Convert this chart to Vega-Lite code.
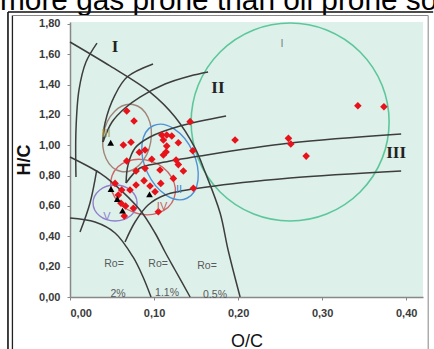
{
  "$schema": "https://vega.github.io/schema/vega-lite/v6.json",
  "width": 353,
  "height": 275,
  "autosize": {"type": "none"},
  "padding": {"left": 70, "top": 22, "right": 11, "bottom": 52},
  "background": "white",
  "config": {
    "view": {"fill": "#ddf0ea", "stroke": null},
    "font": "Liberation Sans",
    "axis": {
      "titleFontSize": 18, "titleColor": "#111", "labelFontSize": 11, "labelFontWeight": "bold",
      "labelColor": "#3a3a3a", "labelPadding": 7, "tickSize": 3, "tickColor": "#888",
      "domainColor": "#888", "domainWidth": 1.5, "grid": false, "labelOverlap": false
    },
    "axisX": {"titleFontWeight": "normal", "titlePadding": 14},
    "axisY": {"titleFontWeight": "bold", "titlePadding": 5}
  },
  "datasets": {
    "curves": [
      {"id": "L1", "o": 0, "x": 0.0, "y": 1.681},
      {"id": "L1", "o": 1, "x": 0.0476, "y": 1.523},
      {"id": "L1", "o": 2, "x": 0.0952, "y": 1.351},
      {"id": "L1", "o": 3, "x": 0.125, "y": 1.187},
      {"id": "L1", "o": 4, "x": 0.1488, "y": 0.982},
      {"id": "L1", "o": 5, "x": 0.1607, "y": 0.824},
      {"id": "L1", "o": 6, "x": 0.1786, "y": 0.554},
      {"id": "L1", "o": 7, "x": 0.1881, "y": 0.31},
      {"id": "L1", "o": 8, "x": 0.2024, "y": 0.0},
      {"id": "L2", "o": 0, "x": 0.0, "y": 0.923},
      {"id": "L2", "o": 1, "x": 0.0357, "y": 0.817},
      {"id": "L2", "o": 2, "x": 0.0512, "y": 0.751},
      {"id": "L2", "o": 3, "x": 0.0833, "y": 0.5735},
      {"id": "L2", "o": 4, "x": 0.1012, "y": 0.4219},
      {"id": "L2", "o": 5, "x": 0.1131, "y": 0.2966},
      {"id": "L2", "o": 6, "x": 0.125, "y": 0.178},
      {"id": "L2", "o": 7, "x": 0.1429, "y": 0.0},
      {"id": "L3", "o": 0, "x": 0.0, "y": 0.521},
      {"id": "L3", "o": 1, "x": 0.0298, "y": 0.494},
      {"id": "L3", "o": 2, "x": 0.0536, "y": 0.422},
      {"id": "L3", "o": 3, "x": 0.075, "y": 0.264},
      {"id": "L3", "o": 4, "x": 0.0869, "y": 0.132},
      {"id": "L3", "o": 5, "x": 0.0964, "y": 0.0},
      {"id": "TI", "o": 0, "x": 0.0321, "y": 1.674},
      {"id": "TI", "o": 1, "x": 0.019, "y": 1.549},
      {"id": "TI", "o": 2, "x": 0.0107, "y": 1.365},
      {"id": "TI", "o": 3, "x": 0.0071, "y": 1.101},
      {"id": "TI", "o": 4, "x": 0.0071, "y": 0.791},
      {"id": "TIb", "o": 0, "x": 0.0318, "y": 0.837},
      {"id": "TIb", "o": 1, "x": 0.0238, "y": 0.62},
      {"id": "TIb", "o": 2, "x": 0.0119, "y": 0.428},
      {"id": "TIIa", "o": 0, "x": 0.0393, "y": 1.022},
      {"id": "TIIa", "o": 1, "x": 0.0417, "y": 1.147},
      {"id": "TIIa", "o": 2, "x": 0.0536, "y": 1.332},
      {"id": "TIIa", "o": 3, "x": 0.0679, "y": 1.45},
      {"id": "TIIa", "o": 4, "x": 0.0988, "y": 1.536},
      {"id": "TIIb", "o": 0, "x": 0.0393, "y": 1.022},
      {"id": "TIIb", "o": 1, "x": 0.05, "y": 1.1536},
      {"id": "TIIb", "o": 2, "x": 0.0655, "y": 1.2459},
      {"id": "TIIb", "o": 3, "x": 0.0833, "y": 1.3184},
      {"id": "TIIb", "o": 4, "x": 0.1131, "y": 1.4041},
      {"id": "TIIb", "o": 5, "x": 0.1429, "y": 1.4568},
      {"id": "TIIb", "o": 6, "x": 0.1643, "y": 1.4832},
      {"id": "C3", "o": 0, "x": 0.0667, "y": 0.7515},
      {"id": "C3", "o": 1, "x": 0.069, "y": 0.8701},
      {"id": "C3", "o": 2, "x": 0.0774, "y": 0.9822},
      {"id": "C3", "o": 3, "x": 0.0952, "y": 1.0547},
      {"id": "C3", "o": 4, "x": 0.131, "y": 1.1272},
      {"id": "C3", "o": 5, "x": 0.1857, "y": 1.1931},
      {"id": "C4", "o": 0, "x": 0.0667, "y": 0.7515},
      {"id": "C4", "o": 1, "x": 0.0833, "y": 0.8504},
      {"id": "C4", "o": 2, "x": 0.1071, "y": 0.8833},
      {"id": "C4", "o": 3, "x": 0.1548, "y": 0.9295},
      {"id": "C4", "o": 4, "x": 0.2619, "y": 1.0152},
      {"id": "C4", "o": 5, "x": 0.394, "y": 1.0745},
      {"id": "C5", "o": 0, "x": 0.0655, "y": 0.3626},
      {"id": "C5", "o": 1, "x": 0.0774, "y": 0.4944},
      {"id": "C5", "o": 2, "x": 0.0929, "y": 0.6065},
      {"id": "C5", "o": 3, "x": 0.1131, "y": 0.6724},
      {"id": "C5", "o": 4, "x": 0.1631, "y": 0.7251},
      {"id": "C5", "o": 5, "x": 0.2619, "y": 0.7844},
      {"id": "C5", "o": 6, "x": 0.394, "y": 0.8306}
    ],
    "red": [
      {"x": 0.0675, "y": 1.226}, {"x": 0.0762, "y": 1.16}, {"x": 0.0635, "y": 1.002},
      {"x": 0.0726, "y": 1.02}, {"x": 0.0825, "y": 0.954}, {"x": 0.0893, "y": 0.969},
      {"x": 0.0675, "y": 0.897}, {"x": 0.0786, "y": 0.831}, {"x": 0.0893, "y": 0.848},
      {"x": 0.0973, "y": 0.908}, {"x": 0.1071, "y": 0.837}, {"x": 0.1092, "y": 1.068},
      {"x": 0.1151, "y": 1.068}, {"x": 0.1211, "y": 1.061}, {"x": 0.1111, "y": 1.035},
      {"x": 0.1289, "y": 1.017}, {"x": 0.1151, "y": 0.995}, {"x": 0.1111, "y": 0.936},
      {"x": 0.1143, "y": 0.956}, {"x": 0.1262, "y": 0.903}, {"x": 0.1289, "y": 0.873},
      {"x": 0.1461, "y": 0.964}, {"x": 0.1349, "y": 0.831}, {"x": 0.123, "y": 0.782},
      {"x": 0.0881, "y": 0.767}, {"x": 0.108, "y": 0.749}, {"x": 0.0952, "y": 0.732},
      {"x": 0.1012, "y": 0.694}, {"x": 0.1468, "y": 0.717}, {"x": 0.0536, "y": 0.749},
      {"x": 0.0615, "y": 0.705}, {"x": 0.0714, "y": 0.705}, {"x": 0.0786, "y": 0.738},
      {"x": 0.0607, "y": 0.618}, {"x": 0.0661, "y": 0.6}, {"x": 0.0575, "y": 0.672},
      {"x": 0.0646, "y": 0.534}, {"x": 0.0754, "y": 0.585}, {"x": 0.1051, "y": 0.562},
      {"x": 0.1429, "y": 1.156}, {"x": 0.1964, "y": 1.035}, {"x": 0.2599, "y": 1.046},
      {"x": 0.2627, "y": 1.009}, {"x": 0.281, "y": 0.929}, {"x": 0.3425, "y": 1.261},
      {"x": 0.3735, "y": 1.254}
    ],
    "tri": [
      {"x": 0.0484, "y": 1.017}, {"x": 0.0488, "y": 0.712}, {"x": 0.0563, "y": 0.646},
      {"x": 0.0625, "y": 0.57}, {"x": 0.0946, "y": 0.676}
    ]
  },
  "layer": [
    {
      "data": {"values": [{"t": "more gas prone than oil prone source"}]},
      "mark": {"type": "text", "align": "left", "baseline": "alphabetic", "fontSize": 29.8, "font": "Liberation Sans", "color": "#000"},
      "encoding": {
        "x": {"datum": -0.0833, "type": "quantitative", "scale": {"domain": [0, 0.42], "nice": false, "zero": false},
          "axis": {"values": [0, 0.1, 0.2, 0.3, 0.4], "labelExpr": "replace(format(datum.value, '.2f'), '.', ',')", "title": "O/C"}},
        "y": {"datum": 1.895, "type": "quantitative", "scale": {"domain": [0, 1.813], "nice": false, "zero": false},
          "axis": {"values": [0, 0.2, 0.4, 0.6, 0.8, 1.0, 1.2, 1.4, 1.6, 1.8], "labelExpr": "replace(format(datum.value, '.2f'), '.', ',')", "title": "H/C"}},
        "text": {"field": "t"}
      }
    },
    {
      "data": {"values": [{"f": "left-outer"}]},
      "mark": {"type": "rule", "stroke": "#111", "strokeWidth": 1.6},
      "encoding": {
        "x": {"datum": -0.0738, "type": "quantitative", "scale": {"domain": [0, 0.42], "nice": false, "zero": false},
          "axis": {"values": [0, 0.1, 0.2, 0.3, 0.4], "labelExpr": "replace(format(datum.value, '.2f'), '.', ',')", "title": "O/C"}},
        "y": {"datum": 1.879, "type": "quantitative", "scale": {"domain": [0, 1.813], "nice": false, "zero": false},
          "axis": {"values": [0, 0.2, 0.4, 0.6, 0.8, 1.0, 1.2, 1.4, 1.6, 1.8], "labelExpr": "replace(format(datum.value, '.2f'), '.', ',')", "title": "H/C"}},
        "y2": {"datum": -0.5}
      }
    },
    {
      "data": {"values": [{"f": "left-inner"}]},
      "mark": {"type": "rule", "stroke": "#222", "strokeWidth": 1.3},
      "encoding": {
        "x": {"datum": -0.0685, "type": "quantitative", "scale": {"domain": [0, 0.42], "nice": false, "zero": false},
          "axis": {"values": [0, 0.1, 0.2, 0.3, 0.4], "labelExpr": "replace(format(datum.value, '.2f'), '.', ',')", "title": "O/C"}},
        "y": {"datum": 1.856, "type": "quantitative", "scale": {"domain": [0, 1.813], "nice": false, "zero": false},
          "axis": {"values": [0, 0.2, 0.4, 0.6, 0.8, 1.0, 1.2, 1.4, 1.6, 1.8], "labelExpr": "replace(format(datum.value, '.2f'), '.', ',')", "title": "H/C"}},
        "y2": {"datum": -0.5}
      }
    },
    {
      "data": {"values": [{"f": "top-outer"}]},
      "mark": {"type": "rule", "stroke": "#111", "strokeWidth": 1.6},
      "encoding": {
        "x": {"datum": -0.0738, "type": "quantitative", "scale": {"domain": [0, 0.42], "nice": false, "zero": false},
          "axis": {"values": [0, 0.1, 0.2, 0.3, 0.4], "labelExpr": "replace(format(datum.value, '.2f'), '.', ',')", "title": "O/C"}},
        "x2": {"datum": 0.4321},
        "y": {"datum": 1.879, "type": "quantitative", "scale": {"domain": [0, 1.813], "nice": false, "zero": false},
          "axis": {"values": [0, 0.2, 0.4, 0.6, 0.8, 1.0, 1.2, 1.4, 1.6, 1.8], "labelExpr": "replace(format(datum.value, '.2f'), '.', ',')", "title": "H/C"}}
      }
    },
    {
      "data": {"values": [{"f": "top-inner"}]},
      "mark": {"type": "rule", "stroke": "#888", "strokeWidth": 1.2},
      "encoding": {
        "x": {"datum": -0.0685, "type": "quantitative", "scale": {"domain": [0, 0.42], "nice": false, "zero": false},
          "axis": {"values": [0, 0.1, 0.2, 0.3, 0.4], "labelExpr": "replace(format(datum.value, '.2f'), '.', ',')", "title": "O/C"}},
        "x2": {"datum": 0.4262},
        "y": {"datum": 1.856, "type": "quantitative", "scale": {"domain": [0, 1.813], "nice": false, "zero": false},
          "axis": {"values": [0, 0.2, 0.4, 0.6, 0.8, 1.0, 1.2, 1.4, 1.6, 1.8], "labelExpr": "replace(format(datum.value, '.2f'), '.', ',')", "title": "H/C"}}
      }
    },
    {
      "data": {"values": [{"f": "right-inner"}]},
      "mark": {"type": "rule", "stroke": "#999", "strokeWidth": 1.2},
      "encoding": {
        "x": {"datum": 0.4262, "type": "quantitative", "scale": {"domain": [0, 0.42], "nice": false, "zero": false},
          "axis": {"values": [0, 0.1, 0.2, 0.3, 0.4], "labelExpr": "replace(format(datum.value, '.2f'), '.', ',')", "title": "O/C"}},
        "y": {"datum": 1.856, "type": "quantitative", "scale": {"domain": [0, 1.813], "nice": false, "zero": false},
          "axis": {"values": [0, 0.2, 0.4, 0.6, 0.8, 1.0, 1.2, 1.4, 1.6, 1.8], "labelExpr": "replace(format(datum.value, '.2f'), '.', ',')", "title": "H/C"}},
        "y2": {"datum": -0.5}
      }
    },
    {
      "encoding": {
        "x": {"field": "x", "type": "quantitative", "scale": {"domain": [0, 0.42], "nice": false, "zero": false},
          "axis": {"values": [0, 0.1, 0.2, 0.3, 0.4], "labelExpr": "replace(format(datum.value, '.2f'), '.', ',')", "title": "O/C"}},
        "y": {"field": "y", "type": "quantitative", "scale": {"domain": [0, 1.813], "nice": false, "zero": false},
          "axis": {"values": [0, 0.2, 0.4, 0.6, 0.8, 1.0, 1.2, 1.4, 1.6, 1.8], "labelExpr": "replace(format(datum.value, '.2f'), '.', ',')", "title": "H/C"}}
      },
      "layer": [
        {
          "data": {"values": [{"x": 0.2619, "y": 1.154}]},
          "mark": {"type": "point", "shape": "circle", "filled": false, "stroke": "#5cc79b", "strokeWidth": 1.6, "opacity": 1},
          "encoding": {"size": {"value": 39204}}
        },
        {
          "data": {"values": [{"x": 0.0679, "y": 1.048}]},
          "mark": {"type": "point", "shape": "M -0.706 0 C -0.706 -0.552 -0.39 -1 0 -1 C 0.39 -1 0.706 -0.552 0.706 0 C 0.706 0.552 0.39 1 0 1 C -0.39 1 -0.706 0.552 -0.706 0 Z", "filled": false, "stroke": "#a08478", "strokeWidth": 1.4, "opacity": 1, "angle": 10},
          "encoding": {"size": {"value": 4624}}
        },
        {
          "data": {"values": [{"x": 0.0869, "y": 0.725}]},
          "mark": {"type": "point", "shape": "M -1 0 C -1 -0.452 -0.552 -0.818 0 -0.818 C 0.552 -0.818 1 -0.452 1 0 C 1 0.452 0.552 0.818 0 0.818 C -0.552 0.818 -1 0.452 -1 0 Z", "filled": false, "stroke": "#cc6666", "strokeWidth": 1.4, "opacity": 1, "angle": 20},
          "encoding": {"size": {"value": 4356}}
        },
        {
          "data": {"values": [{"x": 0.119, "y": 0.89}]},
          "mark": {"type": "point", "shape": "M -0.625 0 C -0.625 -0.552 -0.345 -1 0 -1 C 0.345 -1 0.625 -0.552 0.625 0 C 0.625 0.552 0.345 1 0 1 C -0.345 1 -0.625 0.552 -0.625 0 Z", "filled": false, "stroke": "#4f92d6", "strokeWidth": 1.4, "opacity": 1, "angle": -25},
          "encoding": {"size": {"value": 6400}}
        },
        {
          "data": {"values": [{"x": 0.0536, "y": 0.62}]},
          "mark": {"type": "point", "shape": "M -1 0 C -1 -0.452 -0.552 -0.818 0 -0.818 C 0.552 -0.818 1 -0.452 1 0 C 1 0.452 0.552 0.818 0 0.818 C -0.552 0.818 -1 0.452 -1 0 Z", "filled": false, "stroke": "#8f80cc", "strokeWidth": 1.4, "opacity": 1},
          "encoding": {"size": {"value": 1936}}
        },
        {
          "data": {"name": "curves"},
          "mark": {"type": "line", "stroke": "#3d3d3d", "strokeWidth": 1.5, "interpolate": "catmull-rom"},
          "encoding": {"detail": {"field": "id"}, "order": {"field": "o"}}
        },
        {
          "data": {"name": "red"},
          "mark": {"type": "point", "shape": "diamond", "filled": true, "color": "#e8131a", "opacity": 1},
          "encoding": {"size": {"value": 58}}
        },
        {
          "data": {"name": "tri"},
          "mark": {"type": "point", "shape": "triangle-up", "filled": true, "color": "#000", "opacity": 1},
          "encoding": {"size": {"value": 45}}
        },
        {
          "data": {"values": [
            {"x": 0.0536, "y": 1.648, "t": "I"},
            {"x": 0.176, "y": 1.378, "t": "II"},
            {"x": 0.388, "y": 0.949, "t": "III"}
          ]},
          "mark": {"type": "text", "font": "Liberation Serif", "fontWeight": "bold", "fontSize": 17, "color": "#222"},
          "encoding": {"text": {"field": "t"}}
        },
        {
          "data": {"values": [
            {"x": 0.0524, "y": 0.2175, "t": "Ro="},
            {"x": 0.1048, "y": 0.2175, "t": "Ro="},
            {"x": 0.163, "y": 0.205, "t": "Ro="},
            {"x": 0.0571, "y": 0.02, "t": "2%"},
            {"x": 0.1155, "y": 0.026, "t": "1.1%"},
            {"x": 0.1726, "y": 0.013, "t": "0.5%"}
          ]},
          "mark": {"type": "text", "fontSize": 10.5, "color": "#5a5a5a"},
          "encoding": {"text": {"field": "t"}}
        },
        {
          "data": {"values": [
            {"x": 0.2524, "y": 1.668, "t": "I", "k": "g"},
            {"x": 0.0429, "y": 1.074, "t": "III", "k": "b"},
            {"x": 0.1298, "y": 0.705, "t": "II", "k": "u"},
            {"x": 0.1095, "y": 0.593, "t": "IV", "k": "r"},
            {"x": 0.044, "y": 0.527, "t": "V", "k": "p"}
          ]},
          "mark": {"type": "text", "fontSize": 11},
          "encoding": {
            "text": {"field": "t"},
            "color": {"field": "k", "type": "nominal", "legend": null,
              "scale": {"domain": ["g", "b", "u", "r", "p"], "range": ["#7a8a80", "#a0a060", "#3d85d0", "#c26060", "#8f80cc"]}}
          }
        }
      ]
    }
  ]
}
